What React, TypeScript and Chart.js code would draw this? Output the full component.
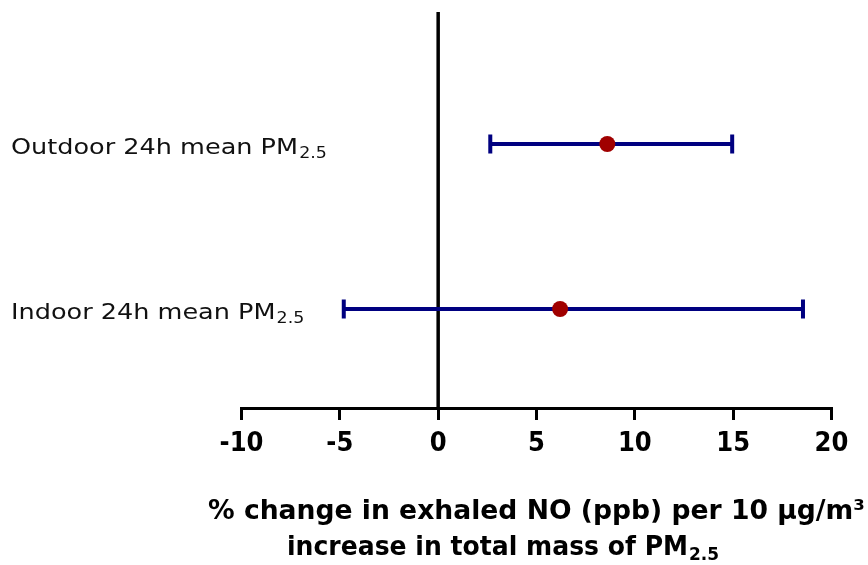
import React, { useEffect, useRef } from "react";
import { Chart, registerables } from "chart.js";

Chart.register(...registerables);

const rowLabels = ["Outdoor 24h mean PM", "Indoor 24h mean PM"];
const rowSub = ["2.5", "2.5"];
const rowPos = [1, 0];
const estimate = [8.6, 6.2];
const lower = [2.65, -4.8];
const upper = [14.95, 18.55];
const xMin = -10;
const xMax = 20;
const xStep = 5;
const titleLine1 = "% change in exhaled NO (ppb) per 10 µg/m³";
const titleLine2 = "increase in total mass of PM";
const titleSub = "2.5";

const LABEL_FONT = '"DejaVu Sans", sans-serif';
const TITLE_FONT = '"DejaVu Sans", sans-serif';

function drawRich(ctx: CanvasRenderingContext2D, main: string, sub: string, x: number, y: number, size: number, weight: string, family: string, sx: number) {
  ctx.save();
  ctx.translate(x, y);
  ctx.scale(sx, 1);
  ctx.font = `${weight} ${size}px ${family}`;
  ctx.textAlign = "left";
  ctx.textBaseline = "alphabetic";
  ctx.fillText(main, 0, 0);
  const w = ctx.measureText(main).width;
  ctx.font = `${weight} ${Math.round(size * 0.68)}px ${family}`;
  ctx.fillText(sub, w + 1, size * 0.2);
  ctx.restore();
}

function stretchFor(ctx: CanvasRenderingContext2D, text: string, size: number, weight: string, family: string, target: number) {
  ctx.font = `${weight} ${size}px ${family}`;
  return target / ctx.measureText(text).width;
}

const forestPlugin = {
  id: "forest",
  beforeDatasetsDraw(chart: any) {
    const ctx = chart.ctx as CanvasRenderingContext2D;
    const xs = chart.scales.x;
    const ys = chart.scales.y;
    ctx.save();
    const x0 = xs.getPixelForValue(0);
    ctx.strokeStyle = "#000000";
    ctx.lineWidth = 3.5;
    ctx.beginPath();
    ctx.moveTo(x0, ys.getPixelForValue(ys.max));
    ctx.lineTo(x0, ys.getPixelForValue(ys.min));
    ctx.stroke();
    ctx.strokeStyle = "#000080";
    ctx.lineCap = "butt";
    rowPos.forEach((r, i) => {
      const y = ys.getPixelForValue(r);
      const a = xs.getPixelForValue(lower[i]);
      const b = xs.getPixelForValue(upper[i]);
      ctx.lineWidth = 4;
      ctx.beginPath();
      ctx.moveTo(a, y);
      ctx.lineTo(b, y);
      ctx.stroke();
      const yt = ys.getPixelForValue(r + 0.058);
      const yb = ys.getPixelForValue(r - 0.058);
      ctx.beginPath();
      ctx.moveTo(a, yt);
      ctx.lineTo(a, yb);
      ctx.moveTo(b, yt);
      ctx.lineTo(b, yb);
      ctx.stroke();
    });
    ctx.restore();
  },
  afterDraw(chart: any) {
    const ctx = chart.ctx as CanvasRenderingContext2D;
    const ys = chart.scales.y;
    ctx.save();
    ctx.fillStyle = "#111111";
    const labelSize = 22;
    const sxL = stretchFor(ctx, rowLabels[0], labelSize, "normal", LABEL_FONT, 287);
    rowPos.forEach((r, i) => {
      const y = ys.getPixelForValue(r);
      drawRich(ctx, rowLabels[i], rowSub[i], 11, y + 10, labelSize, "normal", LABEL_FONT, sxL);
    });
    ctx.fillStyle = "#000000";
    ctx.font = `bold 24px ${TITLE_FONT}`;
    const w1 = ctx.measureText(titleLine1).width;
    const size = 24 * 657 / w1;
    ctx.font = `bold ${size}px ${TITLE_FONT}`;
    ctx.textAlign = "left";
    ctx.textBaseline = "alphabetic";
    ctx.fillText(titleLine1, 208, 519);
    const sx2 = stretchFor(ctx, titleLine2, size, "bold", TITLE_FONT, 401);
    drawRich(ctx, titleLine2, titleSub, 287, 555, size, "bold", TITLE_FONT, sx2);
    ctx.restore();
  },
};

export default function App() {
  const ref = useRef<HTMLCanvasElement | null>(null);
  useEffect(() => {
    if (!ref.current) return;
    const chart = new Chart(ref.current, {
      type: "scatter",
      data: {
        datasets: [
          {
            data: rowPos.map((r, i) => ({ x: estimate[i], y: r })),
            pointRadius: 8,
            pointHoverRadius: 8,
            backgroundColor: "#A00000",
            borderWidth: 0,
          },
        ],
      },
      options: {
        responsive: false,
        animation: false,
        events: [],
        layout: { padding: { left: 241.5, right: 36.5, top: 12, bottom: 0 } },
        plugins: { legend: { display: false }, tooltip: { enabled: false }, title: { display: false } },
        scales: {
          x: {
            type: "linear",
            min: xMin,
            max: xMax,
            afterFit: (scale: any) => {
              scale.height = 157;
            },
            ticks: {
              stepSize: xStep,
              color: "#000000",
              padding: 8,
              font: { family: '"Liberation Sans Narrow", "DejaVu Sans Condensed", "Liberation Sans", sans-serif', weight: "bold", size: 27 },
            },
            grid: {
              drawOnChartArea: false,
              drawTicks: true,
              color: "#000000",
              lineWidth: 3,
              tickLength: 12,
              tickWidth: 3,
            },
            border: { display: true, color: "#000000", width: 3 },
          },
          y: {
            type: "linear",
            min: -0.6,
            max: 1.8,
            display: false,
          },
        },
      },
      plugins: [forestPlugin],
    } as any);
    return () => chart.destroy();
  }, []);
  return (
    <div style={{ position: "absolute", left: 0, top: 0, width: 868, height: 565, background: "#ffffff" }}>
      <canvas ref={ref} width={868} height={565} />
    </div>
  );
}
